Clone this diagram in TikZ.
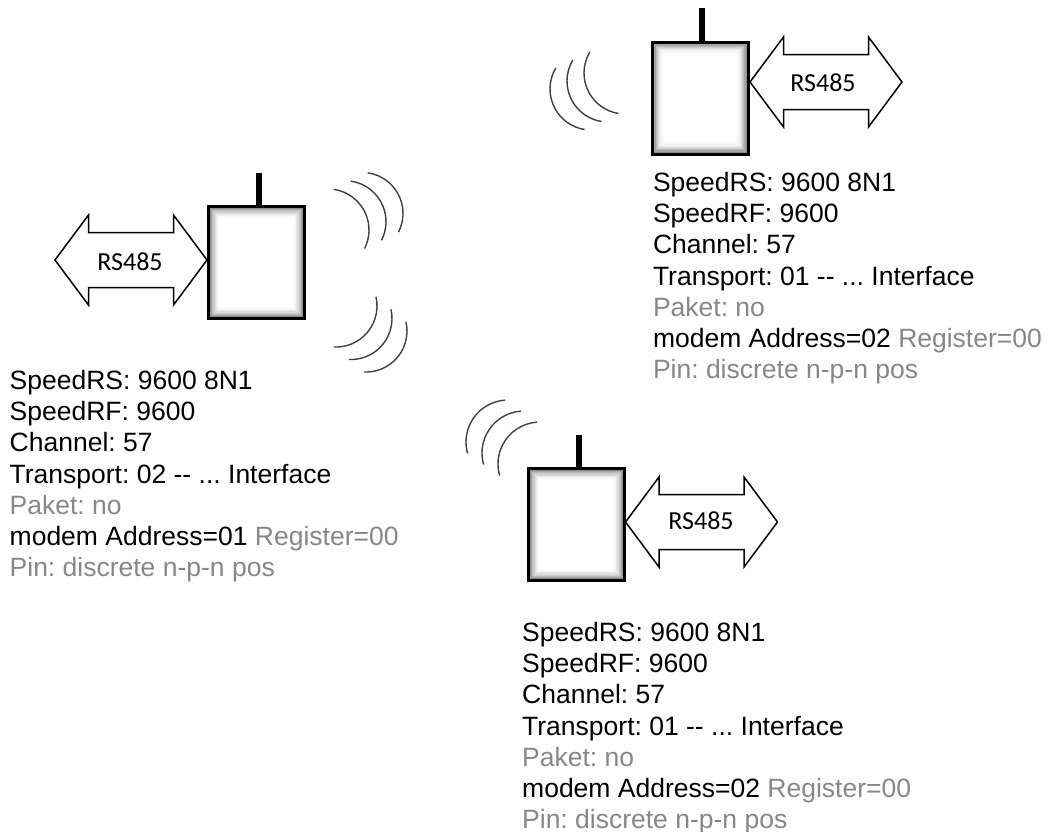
\documentclass[tikz,border=0pt]{standalone}
\usepackage{fontspec}
\setmainfont{Liberation Sans}
\newfontfamily\calibri{Carlito}
\usetikzlibrary{calc}
\frenchspacing

\definecolor{infogray}{RGB}{135,135,135}

\tikzset{
  modem/.style={draw, line width=3pt, minimum width=96pt, minimum height=112pt, inner sep=0pt,
    path picture={
      \foreach \k in {0,...,10}{
        \pgfmathsetmacro\shadeval{55*(1-\k/10)^2}
        \fill[black!\shadeval] ([xshift=1.2pt*\k, yshift=-1.2pt*\k]path picture bounding box.north west)
          rectangle ([xshift=-1.2pt*\k, yshift=1.2pt*\k]path picture bounding box.south east);
      }
    }},
  antenna/.style={line width=6pt},
  bus/.style={draw, line width=1.5pt, fill=white, line join=miter},
  buslabel/.style={font=\calibri\fontsize{26}{30}\selectfont, inner sep=0pt},
  wave/.style={draw=black!75, line width=1.4pt},
  info/.style={align=left, anchor=north west, inner sep=0pt, font=\fontsize{26.5}{31.2}\selectfont},
}

\begin{document}
\begin{tikzpicture}[x=1pt, y=-1pt]
\useasboundingbox (0,0) rectangle (1047,831);

% modems
\node[modem] (box1) at (256.5,262.5) {};
\node[modem] (box2) at (700,98) {};
\node[modem] (box3) at (576.5,524.5) {};
\draw[antenna] ([xshift=2pt]box1.north) -- ++(0,-32);
\draw[antenna] ([xshift=2pt]box2.north) -- ++(0,-33);
\draw[antenna] ([xshift=2pt]box3.north) -- ++(0,-32);

% RS485 arrows
\draw[bus, shift={(131,260)}] (-76,0) -- (-42.5,-45) -- (-42.5,-27.5) -- (42.5,-27.5) -- (42.5,-45) -- (76,0)
  -- (42.5,45) -- (42.5,27.5) -- (-42.5,27.5) -- (-42.5,45) -- cycle;
\draw[bus, shift={(826,82)}] (-76,0) -- (-42.5,-45) -- (-42.5,-27.5) -- (42.5,-27.5) -- (42.5,-45) -- (76,0)
  -- (42.5,45) -- (42.5,27.5) -- (-42.5,27.5) -- (-42.5,45) -- cycle;
\draw[bus, shift={(701.5,522)}] (-76,0) -- (-42.5,-45) -- (-42.5,-27.5) -- (42.5,-27.5) -- (42.5,-45) -- (76,0)
  -- (42.5,45) -- (42.5,27.5) -- (-42.5,27.5) -- (-42.5,45) -- cycle;
\node[buslabel] (bus1) at (130,262) {RS485};
\node[buslabel] (bus2) at (823,83) {RS485};
\node[buslabel] (bus3) at (701,521) {RS485};

% radio waves
\foreach \i in {0,1,2}{
  \draw[wave, shift={(17*\i,-8.3*\i)}] (328,230) ++(-82:41) arc[start angle=-82, end angle=27, radius=41];
  \draw[wave, shift={(15*\i,12.5*\i)}] (336,306) ++(-13:41) arc[start angle=-13, end angle=93, radius=41];
  \draw[wave, shift={(17*\i,-8*\i)}] (591,89) ++(211:41) arc[start angle=211, end angle=99, radius=41];
  \draw[wave, shift={(16*\i,11*\i)}] (508,442) ++(266:42) arc[start angle=266, end angle=164, radius=42];
}

% settings
\node[info] (info1) at (9.5,370) {SpeedRS: 9600 8N1\\
  SpeedRF: 9600\\
  Channel: 57\\
  Transport: 02 -\kern0pt- ... Interface\\
  \textcolor{infogray}{Paket: no}\\
  modem Address=01 \textcolor{infogray}{Register=00}\\
  \textcolor{infogray}{Pin: discrete n-p-n pos}};
\node[info] (info2) at (652.8,172) {SpeedRS: 9600 8N1\\
  SpeedRF: 9600\\
  Channel: 57\\
  Transport: 01 -\kern0pt- ... Interface\\
  \textcolor{infogray}{Paket: no}\\
  modem Address=02 \textcolor{infogray}{Register=00}\\
  \textcolor{infogray}{Pin: discrete n-p-n pos}};
\node[info] (info3) at (522,622) {SpeedRS: 9600 8N1\\
  SpeedRF: 9600\\
  Channel: 57\\
  Transport: 01 -\kern0pt- ... Interface\\
  \textcolor{infogray}{Paket: no}\\
  modem Address=02 \textcolor{infogray}{Register=00}\\
  \textcolor{infogray}{Pin: discrete n-p-n pos}};
\end{tikzpicture}
\end{document}
